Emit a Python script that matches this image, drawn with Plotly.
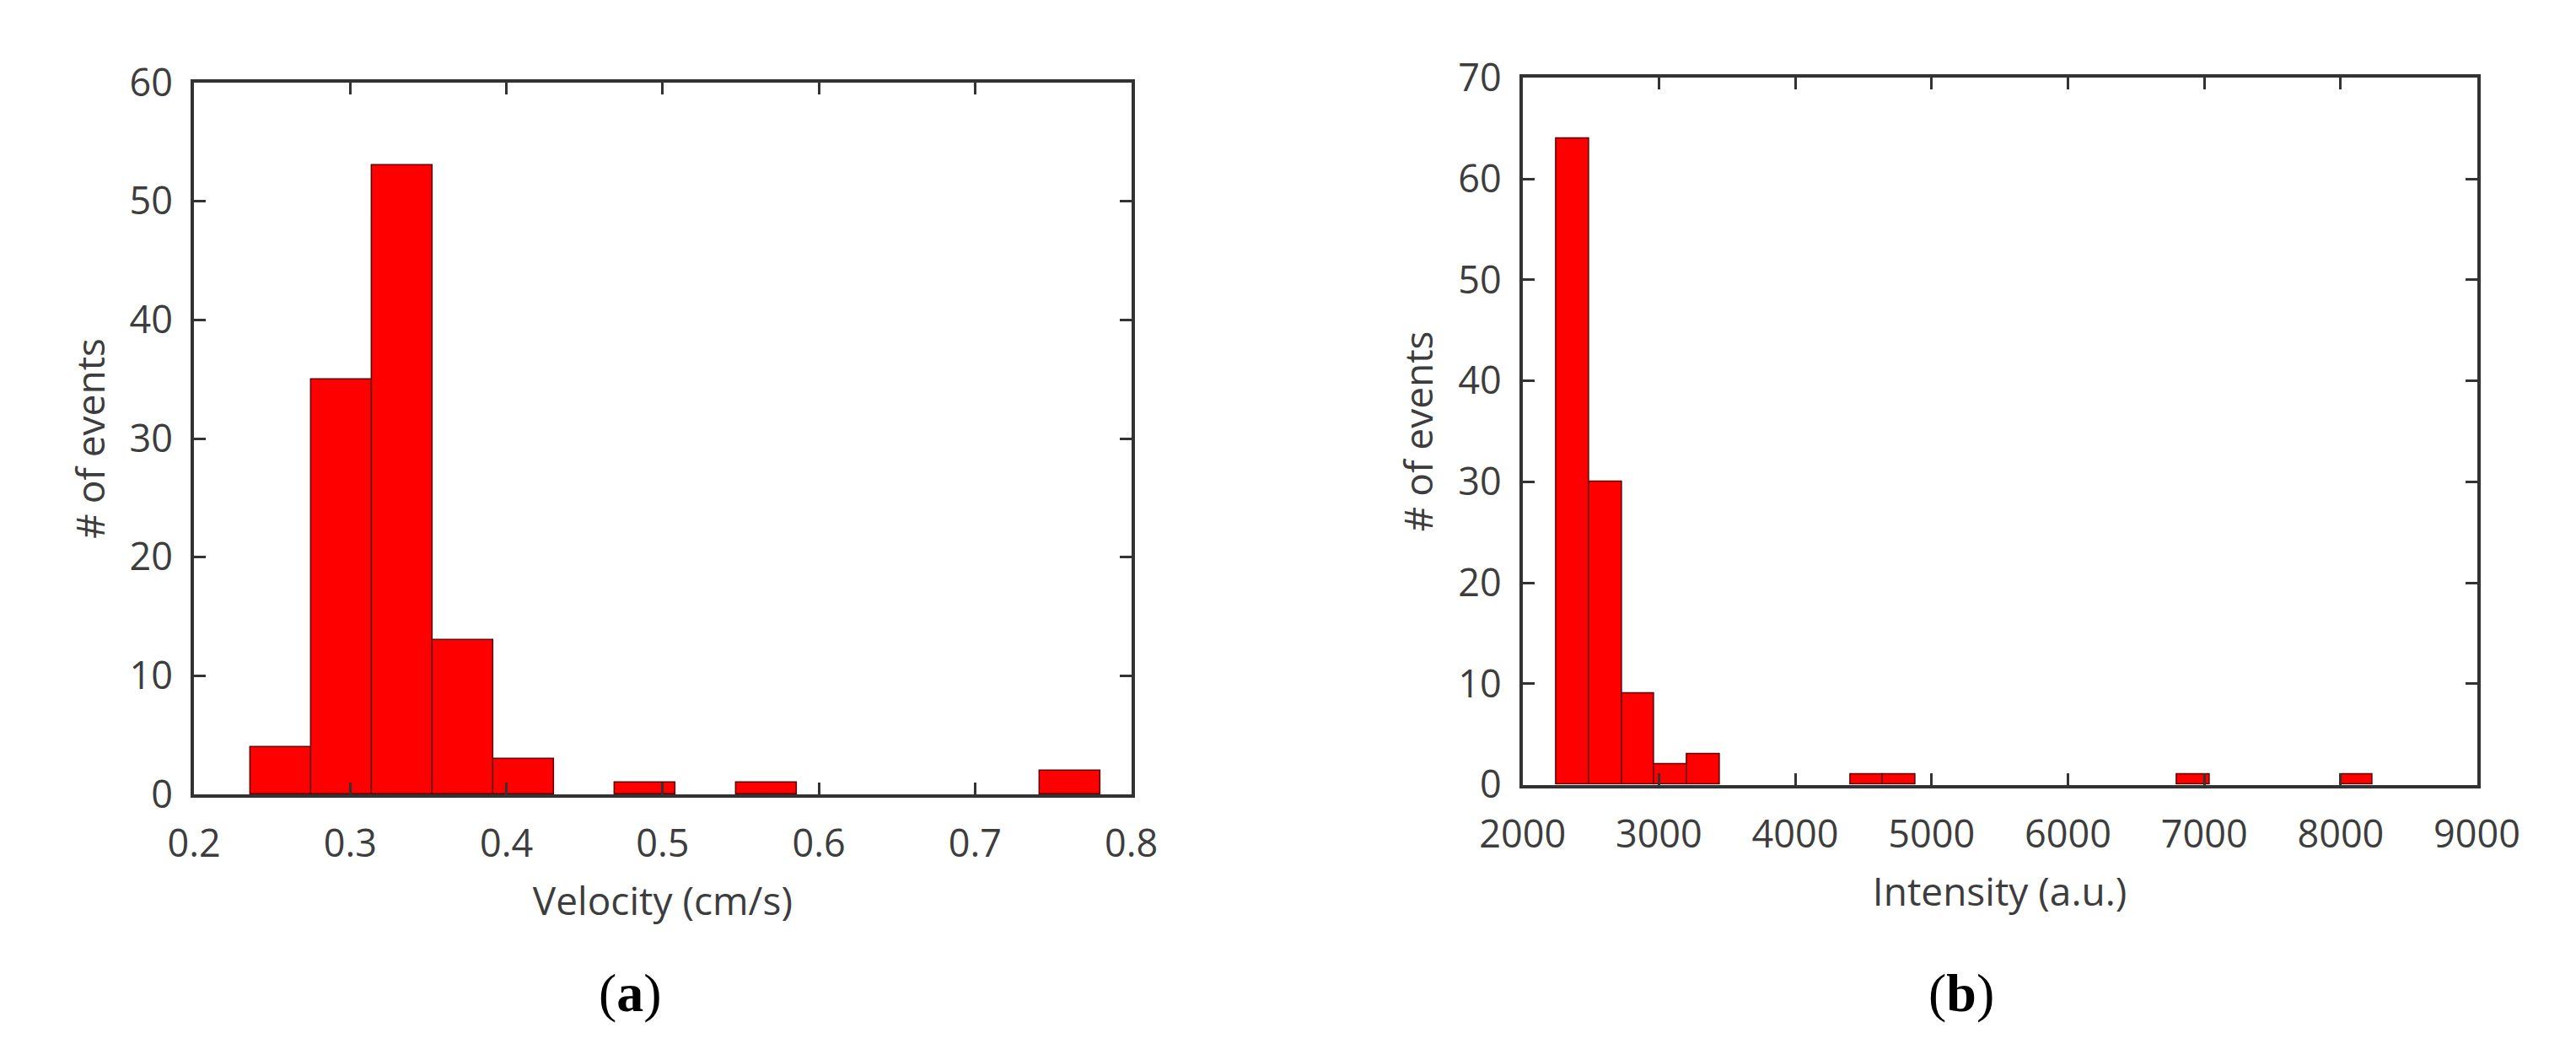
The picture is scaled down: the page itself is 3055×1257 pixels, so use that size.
import numpy as np
import plotly.graph_objects as go

# ---- Data ----
# (a) Velocity histogram
vel_first_edge = 0.236
vel_last_edge = 0.780
vel_counts = [4, 35, 53, 13, 3, 0, 1, 0, 1, 0, 0, 0, 0, 2]
vel_xticks = [0.2, 0.3, 0.4, 0.5, 0.6, 0.7, 0.8]
vel_yticks = [0, 10, 20, 30, 40, 50, 60]

# (b) Intensity histogram
int_first_edge = 2248
int_last_edge = 8236
int_counts = [64, 30, 9, 2, 3, 0, 0, 0, 0, 1, 1, 0, 0, 0, 0, 0, 0, 0, 0, 1, 0, 0, 0, 0, 1]
int_xticks = [2000, 3000, 4000, 5000, 6000, 7000, 8000, 9000]
int_yticks = [0, 10, 20, 30, 40, 50, 60, 70]

W, H = 3055, 1257
AX = "#333333"
TXT = "#3d3d3d"
FONT = "Open Sans"


def hist_bars(first, last, counts):
    edges = np.linspace(first, last, len(counts) + 1)
    centers = (edges[:-1] + edges[1:]) / 2
    width = edges[1] - edges[0]
    c = np.array(counts)
    keep = c > 0
    return centers[keep], c[keep], width


fig = go.Figure()

xa, ya, wa = hist_bars(vel_first_edge, vel_last_edge, vel_counts)
fig.add_trace(go.Bar(x=xa, y=ya, width=wa, xaxis="x", yaxis="y",
                     marker=dict(color="#ff0000", line=dict(color="#5a0000", width=1.5)),
                     showlegend=False))
xb, yb, wb = hist_bars(int_first_edge, int_last_edge, int_counts)
fig.add_trace(go.Bar(x=xb, y=yb, width=wb, xaxis="x2", yaxis="y2",
                     marker=dict(color="#ff0000", line=dict(color="#5a0000", width=1.5)),
                     showlegend=False))


def px_dom_x(a, b):
    return [a / W, b / W]


def px_dom_y(top, bottom):
    return [1 - bottom / H, 1 - top / H]


common_axis = dict(showline=True, linecolor=AX, linewidth=4, mirror="ticks",
                   ticks="inside", ticklen=14, tickwidth=3, tickcolor=AX,
                   showgrid=False, zeroline=False,
                   tickfont=dict(family=FONT, size=45, color=TXT))
title_font = dict(family=FONT, size=46, color=TXT)

fig.update_layout(
    width=W, height=H,
    margin=dict(l=0, r=0, t=0, b=0),
    paper_bgcolor="white", plot_bgcolor="white",
    bargap=0,
    xaxis=dict(domain=px_dom_x(177, 1327), range=[0.2, 0.8], tickvals=vel_xticks,
               tickformat=".1f", anchor="y", ticklabelstandoff=16,
               title=dict(text="Velocity (cm/s)", font=title_font, standoff=26),
               **common_axis),
    yaxis=dict(domain=px_dom_y(61, 948), range=[0, 60], tickvals=vel_yticks,
               anchor="x", ticklabelstandoff=12,
               title=dict(text="# of events", font=title_font, standoff=16),
               **common_axis),
    xaxis2=dict(domain=px_dom_x(1807, 2978), range=[2000, 9000], tickvals=int_xticks,
                anchor="y2", ticklabelstandoff=16,
                title=dict(text="Intensity (a.u.)", font=title_font, standoff=26),
                **common_axis),
    yaxis2=dict(domain=px_dom_y(55, 936), range=[0, 70], tickvals=int_yticks,
                anchor="x2", ticklabelstandoff=12,
                title=dict(text="# of events", font=title_font, standoff=16),
                **common_axis),
    annotations=[
        dict(text="(<b>a</b>)", x=712 / W, y=1 - 1195 / H, xref="paper", yref="paper",
             xanchor="center", yanchor="middle",
             showarrow=False, font=dict(family="Liberation Serif", size=64, color="black")),
        dict(text="(<b>b</b>)", x=2345 / W, y=1 - 1195 / H, xref="paper", yref="paper",
             xanchor="center", yanchor="middle",
             showarrow=False, font=dict(family="Liberation Serif", size=64, color="black")),
    ],
)

fig.write_html("out.html")
